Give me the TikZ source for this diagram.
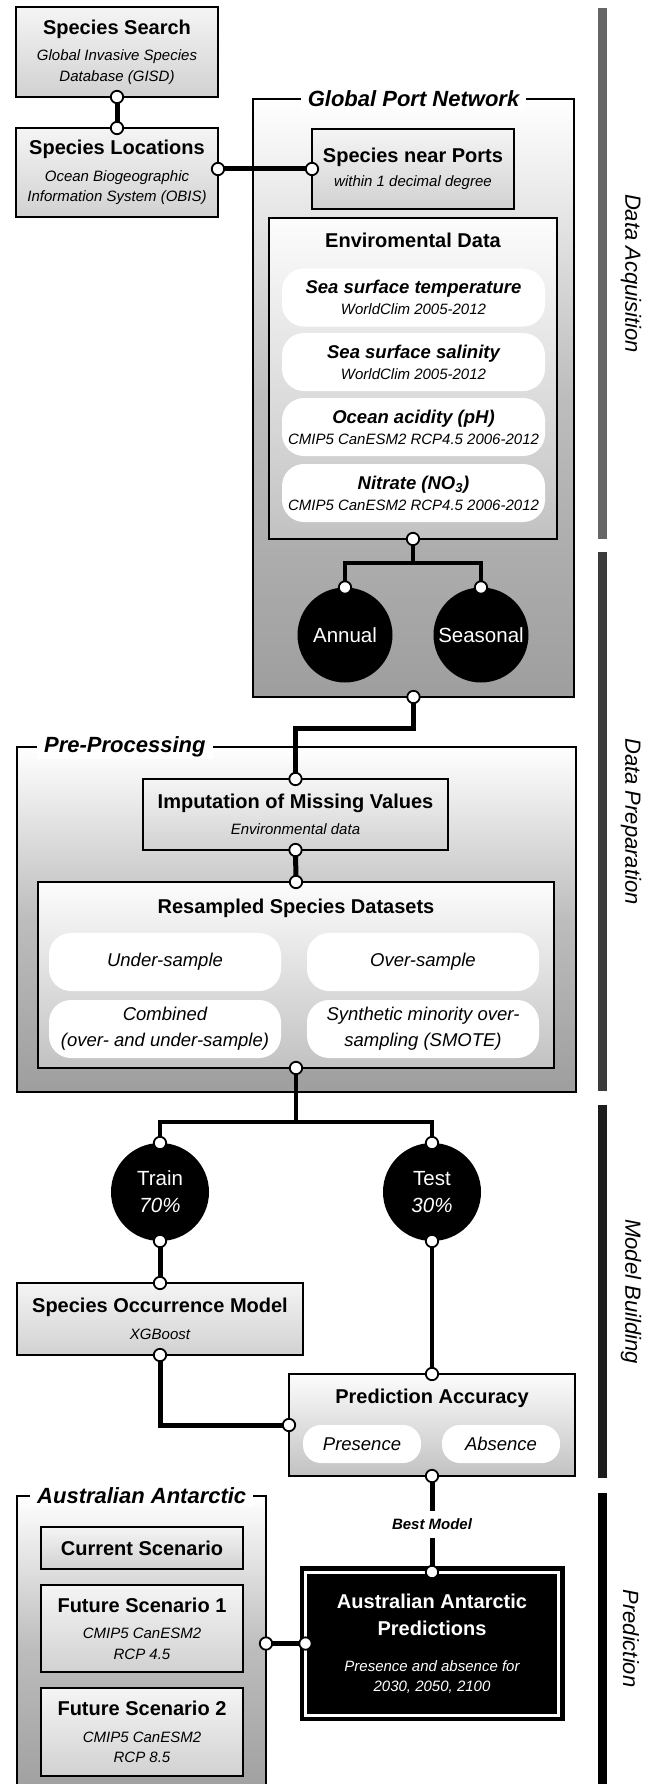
\documentclass[tikz,border=0pt]{standalone}
\usepackage{fontspec}
\setmainfont{Liberation Sans}

\definecolor{boxtop}{gray}{0.96}
\definecolor{boxbot}{gray}{0.82}
\definecolor{paneltop}{gray}{0.99}
\definecolor{panelbot}{gray}{0.76}
\definecolor{framemid}{gray}{0.74}
\definecolor{framebot}{gray}{0.62}
\definecolor{bar1}{gray}{0.40}
\definecolor{bar2}{gray}{0.23}
\definecolor{bar3}{gray}{0.11}

\newcommand\headfont{\fontsize{20}{24}\selectfont\bfseries}
\newcommand\notefont{\fontsize{15}{20.5}\selectfont\itshape}
\newcommand\pilltitle{\fontsize{18.5}{22}\selectfont\bfseries\itshape}
\newcommand\pillfont{\fontsize{18.5}{25}\selectfont\itshape}
\newcommand\framefont{\fontsize{22}{26}\selectfont\bfseries\itshape}
\newcommand\phasefont{\fontsize{22}{26}\selectfont\itshape}
\newcommand\blobfont{\fontsize{20.5}{27}\selectfont}

\tikzset{
  box/.style={rectangle, draw, line width=2.2pt, top color=boxtop, bottom color=boxbot, align=center, inner sep=0pt, outer sep=0pt, font=\fontsize{15}{20.5}\selectfont},
  panel/.style={box, top color=paneltop, bottom color=panelbot},
  region/.style={rectangle, draw, line width=2pt, top color=white, bottom color=framebot, middle color=framemid, inner sep=0pt, outer sep=0pt},
  framelabel/.style={fill=white, inner xsep=7pt, inner ysep=2pt, font=\framefont},
  pill/.style={rectangle, fill=white, rounded corners=22pt, align=center, inner sep=0pt, outer sep=0pt, font=\fontsize{18.5}{21}\selectfont},
  blob/.style={circle, fill=black, text=white, align=center, inner sep=0pt, outer sep=0pt, font=\blobfont},
  outcome/.style={rectangle, fill=black, draw=white, line width=3pt, preaction={draw=black, line width=12pt}, text=white, align=center, inner sep=0pt, outer sep=0pt, font=\fontsize{15}{20}\selectfont},
  link/.style={line width=5pt},
  branch/.style={line width=4.2pt},
  port/.style={draw, fill=white, line width=1.8pt},
  phase/.style={rotate=-90, font=\phasefont, inner sep=0pt},
}

\begin{document}
\begin{tikzpicture}[x=1pt, y=-1pt]
\useasboundingbox (0,0) rectangle (661,1784);

% group frames
\node[region, minimum width=321pt, minimum height=598pt] (gpn) at (413.5,398) {};
\node[region, minimum width=559pt, minimum height=345pt] (pp) at (296.5,919.5) {};
\node[region, minimum width=249pt, minimum height=304pt] (aa) at (141.5,1648) {};
\node[framelabel] (gpntitle) at (413.5,99) {Global Port Network};
\node[framelabel, anchor=west] (pptitle) at (37,747) {Pre-Processing};
\node[framelabel, anchor=west] (aatitle) at (30,1496) {Australian Antarctic};

% data acquisition
\node[box, minimum width=202pt, minimum height=90pt] (search) at (117,52)
  {\headfont Species Search\\[6pt] \notefont Global Invasive Species\\ \notefont Database (GISD)};
\node[box, minimum width=202pt, minimum height=89pt] (locations) at (117,172.5)
  {\headfont Species Locations\\[6pt] \notefont Ocean Biogeographic\\ \notefont Information System (OBIS)};
\node[box, minimum width=202pt, minimum height=80pt] (nearports) at (413,169)
  {\headfont Species near Ports\\[3pt] \notefont within 1 decimal degree};
\node[panel, minimum width=288pt, minimum height=321pt] (envdata) at (413,378.5) {};
\node (envtitle) at (413,240) {\headfont Enviromental Data};
\node[pill, minimum width=263pt, minimum height=58pt] (sst) at (413.5,297.5)
  {\pilltitle Sea surface temperature\\ \notefont WorldClim 2005-2012};
\node[pill, minimum width=263pt, minimum height=58pt] (sss) at (413.5,362)
  {\pilltitle Sea surface salinity\\ \notefont WorldClim 2005-2012};
\node[pill, minimum width=263pt, minimum height=58pt] (ph) at (413.5,427)
  {\pilltitle Ocean acidity (pH)\\ \notefont CMIP5 CanESM2 RCP4.5 2006-2012};
\node[pill, minimum width=263pt, minimum height=58pt] (no3) at (413.5,493)
  {\pilltitle Nitrate (NO\textsubscript{3})\\ \notefont CMIP5 CanESM2 RCP4.5 2006-2012};
\node[blob, minimum size=95pt] (annual) at (345,635) {Annual};
\node[blob, minimum size=95pt] (seasonal) at (481,635) {Seasonal};

% data preparation
\node[box, minimum width=305pt, minimum height=71pt] (imputation) at (295.5,814.5)
  {\headfont Imputation of Missing Values\\[5pt] \notefont Environmental data};
\node[panel, minimum width=516pt, minimum height=186pt] (resampled) at (296,975) {};
\node (restitle) at (296,908) {\headfont Resampled Species Datasets};
\node[pill, minimum width=232pt, minimum height=58pt] (under) at (165,962) {\pillfont Under-sample};
\node[pill, minimum width=232pt, minimum height=58pt] (over) at (423,962) {\pillfont Over-sample};
\node[pill, minimum width=232pt, minimum height=58pt] (combined) at (165,1029)
  {\pillfont Combined\\[5pt] \pillfont (over- and under-sample)};
\node[pill, minimum width=232pt, minimum height=58pt] (smote) at (423,1029)
  {\pillfont Synthetic minority over-\\[5pt] \pillfont sampling (SMOTE)};

% model building
\node[blob, minimum size=98pt] (train) at (160,1192) {Train\\ \itshape 70\%};
\node[blob, minimum size=98pt] (test) at (432,1192) {Test\\ \itshape 30\%};
\node[box, minimum width=286pt, minimum height=72pt] (som) at (160,1319)
  {\headfont Species Occurrence Model\\[6pt] \notefont XGBoost};
\node[panel, minimum width=286pt, minimum height=102pt] (pa) at (432,1425) {};
\node (patitle) at (432,1398) {\headfont Prediction Accuracy};
\node[pill, rounded corners=18pt, minimum width=118pt, minimum height=38pt] (presence) at (362,1444) {\pillfont Presence};
\node[pill, rounded corners=18pt, minimum width=118pt, minimum height=38pt] (absence) at (501,1444) {\pillfont Absence};

% prediction
\node[outcome, minimum width=253pt, minimum height=143pt] (pred) at (432,1643.5)
  {\headfont Australian Antarctic\\[7pt] \headfont Predictions\\[16pt] \notefont Presence and absence for\\ \notefont 2030, 2050, 2100};
\node[box, minimum width=202pt, minimum height=42pt] (current) at (142,1548) {\headfont Current Scenario};
\node[box, minimum width=202pt, minimum height=87pt] (future1) at (142,1628.5)
  {\headfont Future Scenario 1\\[6pt] \notefont CMIP5 CanESM2\\ \notefont RCP 4.5};
\node[box, minimum width=202pt, minimum height=88pt] (future2) at (142,1732)
  {\headfont Future Scenario 2\\[6pt] \notefont CMIP5 CanESM2\\ \notefont RCP 8.5};

% connectors
\coordinate (locport) at (locations.east |- nearports.west);
\coordinate (aaport) at (aa.east |- pred.west);
\draw[link] (search.south) -- (locations.north);
\draw[link] (locport) -- (nearports.west);
\draw[branch] (envdata.south) -- ++(0,24) -| (annual.north);
\draw[branch] (envdata.south) -- ++(0,24) -| (seasonal.north);
\draw[link] (gpn.south) -- ++(0,31) -| (imputation.north);
\draw[link] (imputation.south) -- (resampled.north);
\draw[branch] (resampled.south) -- ++(0,54) -| (train.north);
\draw[branch] (resampled.south) -- ++(0,54) -| (test.north);
\draw[link] (train.south) -- (som.north);
\draw[branch] (test.south) -- (pa.north);
\draw[link] (som.south) |- (pa.west);
\draw[link] (pa.south) -- node[fill=white, inner xsep=4pt, inner ysep=8pt, font=\fontsize{15}{18}\selectfont\bfseries\itshape] (best) {Best Model} (pred.north);
\draw[link] (aaport) -- (pred.west);

\foreach \p in {search.south, locations.north, locport, nearports.west, envdata.south, annual.north, seasonal.north,
  gpn.south, imputation.north, imputation.south, resampled.north, resampled.south, train.north, test.north,
  train.south, test.south, som.north, som.south, pa.north, pa.west, pa.south, pred.north, pred.west, aaport}
  \draw[port] (\p) circle[radius=6.2pt];

% phase bars
\foreach \ya/\yb/\shade/\txt [count=\i] in {8/539/bar1/Data Acquisition, 552/1091/bar2/Data Preparation,
  1105/1478/bar3/Model Building, 1493/1784/black/Prediction} {
  \fill[\shade] (598,\ya) rectangle (607,\yb);
  \node[phase] (phase\i) at (631,{(\ya+\yb)/2}) {\txt};
}
\end{tikzpicture}
\end{document}
